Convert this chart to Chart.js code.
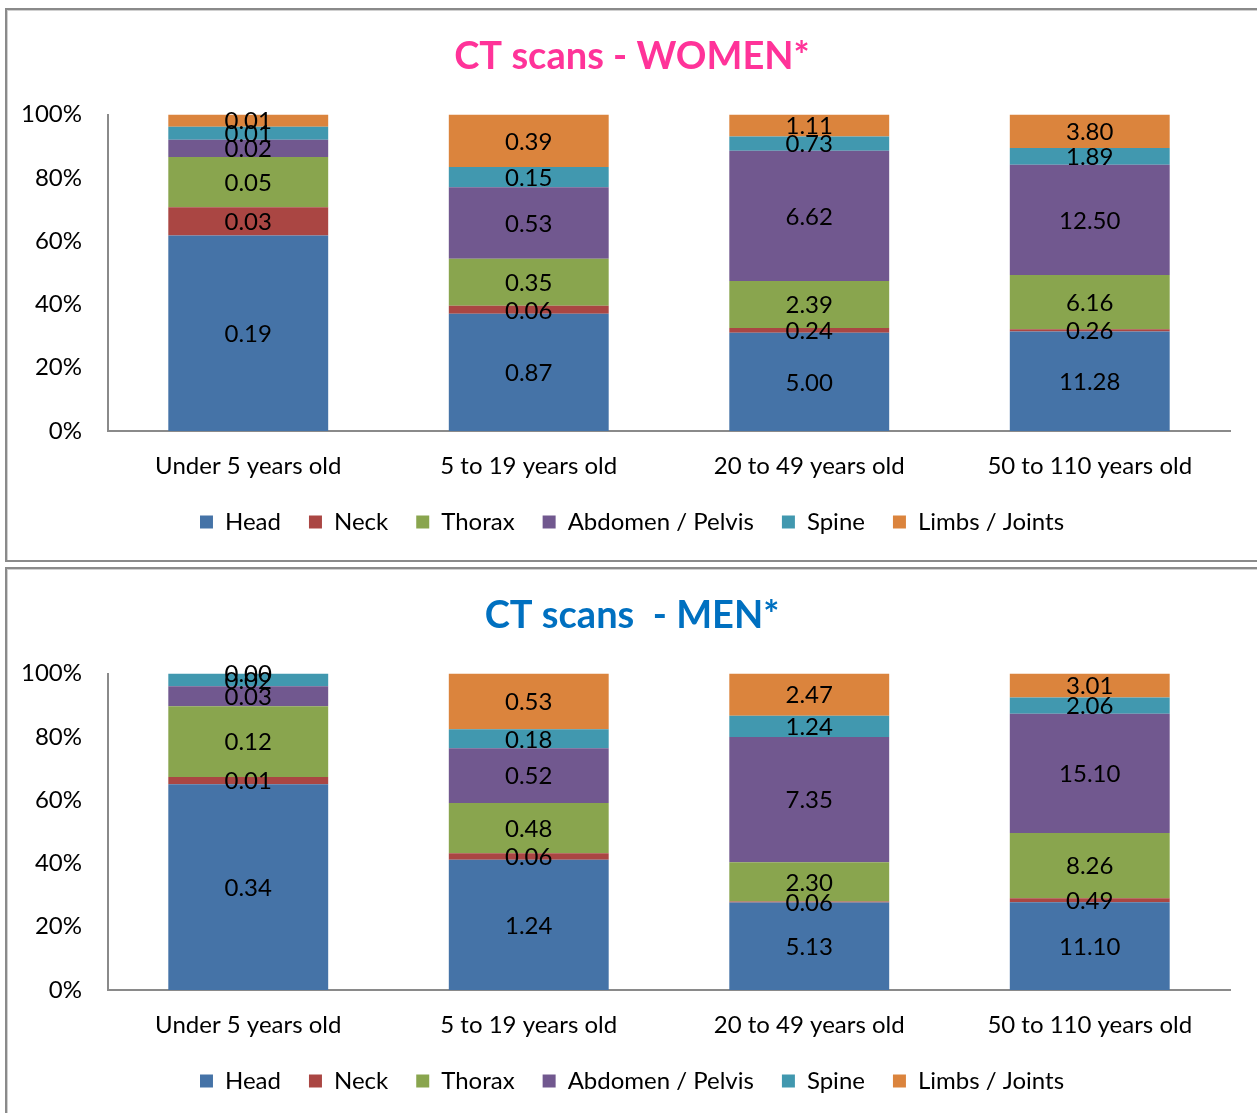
<!DOCTYPE html>
<html>
<head>
<meta charset="utf-8">
<script src="https://cdn.jsdelivr.net/npm/chart.js@4.4.1/dist/chart.umd.min.js"></script>
<style>
  html, body { margin: 0; padding: 0; background: #fff; overflow: hidden; }
  .box {
    position: absolute;
    left: 5px;
    width: 1280px;
    border: 2px solid #8a8a8a;
    box-shadow: inset 1px 1px 0 #d0d0d0;
    background: #fff;
  }
  #box1 { top: 8px; height: 550px; }
  #box2 { top: 567px; height: 560px; }
  canvas { position: absolute; left: 0; top: 0; }
</style>
</head>
<body>
<div class="box" id="box1"><canvas id="women" width="1250" height="550"></canvas></div>
<div class="box" id="box2"><canvas id="men" width="1250" height="550"></canvas></div>
<script>
const ageGroups = ["Under 5 years old", "5 to 19 years old", "20 to 49 years old", "50 to 110 years old"];
const bodyParts = ["Head", "Neck", "Thorax", "Abdomen / Pelvis", "Spine", "Limbs / Joints"];
const partColors = ["#4573A7", "#AA4643", "#89A54E", "#71588F", "#4198AF", "#DB843D"];

// exams per 1000 (labels shown with 2 decimals), one array per body part, in age-group order
const womenHead    = [0.194, 0.87, 5.00, 11.28];
const womenNeck    = [0.028, 0.06, 0.24, 0.26];
const womenThorax  = [0.050, 0.35, 2.39, 6.16];
const womenAbdomen = [0.017, 0.53, 6.62, 12.50];
const womenSpine   = [0.013, 0.15, 0.73, 1.89];
const womenLimbs   = [0.012, 0.39, 1.11, 3.80];

const menHead    = [0.340, 1.24, 5.13, 11.10];
const menNeck    = [0.012, 0.06, 0.06, 0.49];
const menThorax  = [0.117, 0.48, 2.30, 8.26];
const menAbdomen = [0.033, 0.52, 7.35, 15.10];
const menSpine   = [0.021, 0.18, 1.24, 2.06];
const menLimbs   = [0.000, 0.53, 2.47, 3.01];

const yTicks = [0, 20, 40, 60, 80, 100];

const FONT = "Lato, 'Open Sans', sans-serif";

// writes the raw value in the middle of each stacked segment
const segmentLabels = {
  id: "segmentLabels",
  afterDatasetsDraw(chart) {
    const ctx = chart.ctx;
    ctx.save();
    ctx.font = "24px " + FONT;
    ctx.fillStyle = "#000";
    ctx.textAlign = "center";
    ctx.textBaseline = "middle";
    chart.data.datasets.forEach((ds, i) => {
      const meta = chart.getDatasetMeta(i);
      meta.data.forEach((bar, j) => {
        const y = (bar.y + bar.base) / 2;
        ctx.fillText(ds.raw[j].toFixed(2), bar.x, y + 1);
      });
    });
    ctx.restore();
  }
};

function makeChart(id, title, titleColor, series) {
  const totals = ageGroups.map((_, j) => series.reduce((s, arr) => s + arr[j], 0));
  const datasets = series.map((arr, i) => ({
    label: bodyParts[i],
    raw: arr,
    data: arr.map((v, j) => v / totals[j] * 100),
    backgroundColor: partColors[i],
    borderWidth: 0,
    barPercentage: 0.57,
    categoryPercentage: 1
  }));

  new Chart(document.getElementById(id), {
    type: "bar",
    data: { labels: ageGroups, datasets: datasets },
    options: {
      responsive: false,
      animation: false,
      layout: { padding: { left: 0, right: 0, top: 0, bottom: 16 } },
      scales: {
        x: {
          stacked: true,
          // no extra padding under the labels
          afterFit(scale) { scale.height = 51; },
          grid: { display: false, drawTicks: false },
          border: { color: "#8a8a8a", width: 2 },
          ticks: { color: "#000", font: { family: FONT, size: 24 }, padding: 21 }
        },
        y: {
          stacked: true,
          min: 0,
          max: 100,
          afterFit(scale) { scale.width = 101; },
          afterBuildTicks(scale) { scale.ticks = yTicks.map(v => ({ value: v })); },
          grid: { display: false, drawTicks: false },
          border: { color: "#8a8a8a", width: 2 },
          ticks: {
            color: "#000",
            font: { family: FONT, size: 24 },
            padding: 26,
            callback: v => v + "%"
          }
        },
        // empty right margin so title and legend stay centred on the box
        spacer: {
          type: "linear",
          position: "right",
          afterFit(scale) { scale.width = 27; },
          grid: { display: false, drawTicks: false },
          border: { display: false },
          ticks: { display: false }
        }
      },
      plugins: {
        title: {
          display: true,
          text: title,
          color: titleColor,
          font: { family: FONT, size: 38, weight: "bold" },
          padding: { top: 24, bottom: 35 }
        },
        legend: {
          position: "bottom",
          labels: {
            color: "#000",
            font: { family: FONT, size: 24 },
            boxWidth: 13,
            boxHeight: 13,
            padding: 28
          }
        },
        tooltip: { enabled: false }
      }
    },
    plugins: [segmentLabels]
  });
}

makeChart("women", "CT scans - WOMEN*", "#FF3399",
  [womenHead, womenNeck, womenThorax, womenAbdomen, womenSpine, womenLimbs]);
makeChart("men", "CT scans  - MEN*", "#0070C0",
  [menHead, menNeck, menThorax, menAbdomen, menSpine, menLimbs]);
</script>
</body>
</html>
